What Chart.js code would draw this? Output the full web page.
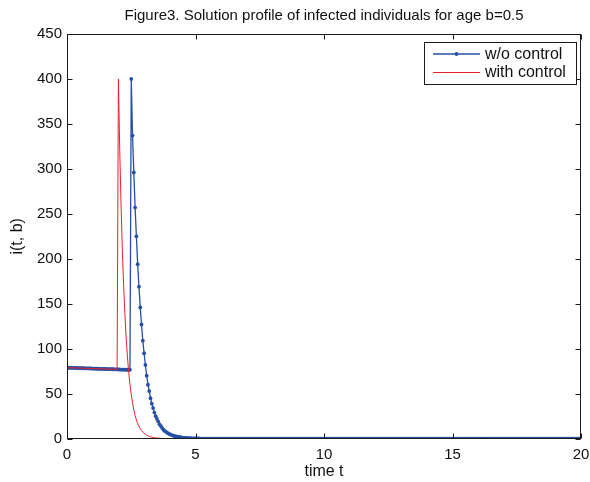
<!DOCTYPE html>
<html>
<head>
<meta charset="utf-8">
<script src="https://cdn.jsdelivr.net/npm/chart.js@4.4.1/dist/chart.umd.min.js"></script>
<style>
  html, body { margin: 0; padding: 0; background: #fff; }
  canvas { display: block; }
</style>
</head>
<body>
<canvas id="c" width="590" height="482"></canvas>
<script>
// ---- data ----
const chartTitle = "Figure3. Solution profile of infected individuals for age b=0.5";
const xTitle = "time t";
const yTitle = "i(t, b)";
const seriesNames = ["w/o control", "with control"];
const xTicks = [0, 5, 10, 15, 20];
const yTicks = [0, 50, 100, 150, 200, 250, 300, 350, 400, 450];

// w/o control: sampled every 0.05 time units starting at t = 0
const blueStep = 0.05;
const blueBefore = [79,78.95,78.9,78.85,78.8,78.75,78.7,78.65,78.6,78.55,
  78.5,78.45,78.4,78.35,78.3,78.25,78.2,78.15,78.1,78.05,
  78,77.95,77.9,77.85,77.8,77.75,77.7,77.65,77.6,77.55,
  77.5,77.45,77.4,77.35,77.3,77.25,77.2,77.15,77.1,77.05,
  77,76.95,76.9,76.85,76.8,76.75,76.7,76.65,76.6,76.55];
const blueAfter = [400,337,296,257,225,194,169,146,127,109,
  95,82,70,60,53,45,39,34,29,25,
  22,19,16,14,12,10,8.7,7.6,6.6,5.7,
  5.0,4.3,3.8,3.3,2.8,2.5,2.1,1.9,1.6,1.4,
  1.2,1.0,0.9,0.8,0.7,0.6,0.5,0.45,0.4,0.35,
  0.3,0.25,0.2,0.2,0.15,0.1,0.1,0.1,0.05,0.05];
const blueTail = [
  0,0,0,0,0,0,0,0,0,0, 0,0,0,0,0,0,0,0,0,0, 0,0,0,0,0,0,0,0,0,0,
  0,0,0,0,0,0,0,0,0,0, 0,0,0,0,0,0,0,0,0,0, 0,0,0,0,0,0,0,0,0,0,
  0,0,0,0,0,0,0,0,0,0, 0,0,0,0,0,0,0,0,0,0, 0,0,0,0,0,0,0,0,0,0,
  0,0,0,0,0,0,0,0,0,0, 0,0,0,0,0,0,0,0,0,0, 0,0,0,0,0,0,0,0,0,0,
  0,0,0,0,0,0,0,0,0,0, 0,0,0,0,0,0,0,0,0,0, 0,0,0,0,0,0,0,0,0,0,
  0,0,0,0,0,0,0,0,0,0, 0,0,0,0,0,0,0,0,0,0, 0,0,0,0,0,0,0,0,0,0,
  0,0,0,0,0,0,0,0,0,0, 0,0,0,0,0,0,0,0,0,0, 0,0,0,0,0,0,0,0,0,0,
  0,0,0,0,0,0,0,0,0,0, 0,0,0,0,0,0,0,0,0,0, 0,0,0,0,0,0,0,0,0,0,
  0,0,0,0,0,0,0,0,0,0, 0,0,0,0,0,0,0,0,0,0, 0,0,0,0,0,0,0,0,0,0,
  0,0,0,0,0,0,0,0,0,0, 0,0,0,0,0,0,0,0,0,0, 0];

// with control
const redTime = [0,1.95,2.0,2.05,2.1,2.15,2.2,2.25,2.3,2.35,2.4,2.45,
  2.5,2.55,2.6,2.65,2.7,2.75,2.8,2.85,2.9,2.95,
  3.0,3.05,3.1,3.15,3.2,3.25,3.3,3.35,3.4,3.45,
  3.5,3.55,3.6,3.65,3.7,3.75,3.8,3.85,3.9,3.95,4.0,20];
const redValues = [79,77.05,400,324,263,213,173,140,113,92,74,60,
  49,40,32,26,21,17,14,11,9,7.4,
  6,4.9,4,3.2,2.6,2.1,1.7,1.4,1.1,0.9,
  0.7,0.6,0.5,0.4,0.3,0.25,0.2,0.15,0.1,0.1,0.05,0];

// ---- build data for the library ----
const blueValues = blueBefore.concat(blueAfter, blueTail);
const blueData = blueValues.map((v, i) => ({ x: i * blueStep, y: v }));
const redData = redTime.map((t, i) => ({ x: t, y: redValues[i] }));

const BLUE = "#2650a6";
const RED = "#e8222a";
const FONT = "'Liberation Sans', Arial, Helvetica, sans-serif";

const framePlugin = {
  id: "frame",
  afterDraw(chart) {
    const ctx = chart.ctx;
    const a = chart.chartArea;
    const xs = chart.scales.x, ys = chart.scales.y;
    ctx.save();
    ctx.strokeStyle = "#1a1a1a";
    ctx.lineWidth = 1;
    const L = Math.round(a.left) + 0.5, R = Math.round(a.right) - 0.5;
    const T = Math.round(a.top) + 0.5, B = Math.round(a.bottom) - 0.5;
    ctx.strokeRect(L, T, R - L, B - T);
    const tl = 5;
    ctx.beginPath();
    xs.ticks.forEach(t => {
      const px = Math.round(xs.getPixelForValue(t.value)) + 0.5;
      ctx.moveTo(px, B); ctx.lineTo(px, B - tl);
      ctx.moveTo(px, T); ctx.lineTo(px, T + tl);
    });
    ys.ticks.forEach(t => {
      const py = Math.round(ys.getPixelForValue(t.value)) + 0.5;
      ctx.moveTo(L, py); ctx.lineTo(L + tl, py);
      ctx.moveTo(R, py); ctx.lineTo(R - tl, py);
    });
    ctx.stroke();

    // title, centred over the axes
    ctx.fillStyle = "#111";
    ctx.font = "15px " + FONT;
    ctx.textAlign = "center";
    ctx.textBaseline = "middle";
    ctx.fillText(chartTitle, (a.left + a.right) / 2, 16);

    // legend box (MATLAB style, inside the axes)
    const bx = 424.5, by = 42.5, bw = 152, bh = 42;
    ctx.fillStyle = "#fff";
    ctx.fillRect(bx, by, bw, bh);
    ctx.strokeStyle = "#1a1a1a";
    ctx.strokeRect(bx, by, bw, bh);
    const rows = [54, 72.5];
    chart.data.datasets.forEach((ds, i) => {
      const y = rows[i];
      ctx.strokeStyle = ds.borderColor;
      ctx.lineWidth = ds.borderWidth;
      ctx.beginPath();
      ctx.moveTo(433, y); ctx.lineTo(480, y);
      ctx.stroke();
      if (ds.pointRadius > 0) {
        ctx.fillStyle = ds.borderColor;
        ctx.beginPath();
        ctx.arc(456.5, y, ds.pointRadius, 0, Math.PI * 2);
        ctx.fill();
      }
      ctx.fillStyle = "#111";
      ctx.font = "16px " + FONT;
      ctx.textBaseline = "middle";
      ctx.textAlign = "left";
      ctx.fillText(ds.label, 485, y + 0.5);
    });
    ctx.restore();
  }
};

new Chart(document.getElementById("c"), {
  type: "line",
  data: {
    datasets: [
      {
        label: seriesNames[0],
        data: blueData,
        borderColor: BLUE,
        backgroundColor: BLUE,
        borderWidth: 1.3,
        pointRadius: 1.9,
        pointBorderWidth: 0,
        pointBackgroundColor: BLUE,
        tension: 0,
        order: 1
      },
      {
        label: seriesNames[1],
        data: redData,
        borderColor: RED,
        backgroundColor: RED,
        borderWidth: 1,
        pointRadius: 0,
        tension: 0,
        order: 0
      }
    ]
  },
  options: {
    responsive: false,
    animation: false,
    devicePixelRatio: 1,
    layout: { padding: { left: 0, right: 0, top: 34, bottom: 0 } },
    plugins: {
      legend: { display: false },
      tooltip: { enabled: false },
      title: { display: false }
    },
    scales: {
      x: {
        type: "linear",
        min: 0, max: 20,
        afterBuildTicks: s => { s.ticks = xTicks.map(v => ({ value: v })); },
        afterFit: s => { s.height = 43.3; s.paddingLeft = 0; s.paddingRight = 9; },
        grid: { display: false, drawTicks: false },
        border: { display: false },
        ticks: { color: "#111", font: { family: FONT, size: 15 }, padding: 7, maxRotation: 0 },
        title: { display: true, text: xTitle, color: "#111", font: { family: FONT, size: 16 }, padding: { top: 0, bottom: 1 } }
      },
      y: {
        type: "linear",
        min: 0, max: 450,
        afterBuildTicks: s => { s.ticks = yTicks.map(v => ({ value: v })); },
        afterFit: s => { s.width = 67; s.paddingTop = 0; s.paddingBottom = 0; },
        grid: { display: false, drawTicks: false },
        border: { display: false },
        ticks: { color: "#111", font: { family: FONT, size: 15 }, padding: 5 },
        title: { display: true, text: yTitle, color: "#111", font: { family: FONT, size: 16 }, padding: { top: 8, bottom: 0 } }
      }
    }
  },
  plugins: [framePlugin]
});
</script>
</body>
</html>
